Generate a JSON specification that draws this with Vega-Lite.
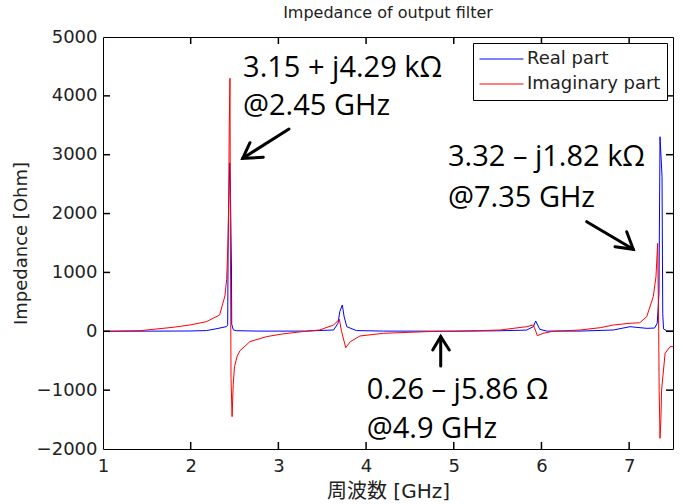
{
  "$schema": "https://vega.github.io/schema/vega-lite/v6.json",
  "width": 570,
  "height": 412,
  "autosize": {"type": "none"},
  "padding": {"left": 103, "top": 37, "right": 10, "bottom": 55},
  "background": "white",
  "title": {"text": "Impedance of output filter", "font": "DejaVu Sans", "fontSize": 16, "fontWeight": "normal", "color": "#222", "offset": 7, "anchor": "middle", "frame": "group"},
  "datasets": {
    "curves": [
      {"series": "Real part", "x": 1.0, "y": 0},
      {"series": "Real part", "x": 1.5, "y": 2},
      {"series": "Real part", "x": 1.99, "y": 5},
      {"series": "Real part", "x": 2.18, "y": 12},
      {"series": "Real part", "x": 2.30, "y": 45},
      {"series": "Real part", "x": 2.41, "y": 80},
      {"series": "Real part", "x": 2.422, "y": 110},
      {"series": "Real part", "x": 2.428, "y": 1780},
      {"series": "Real part", "x": 2.445, "y": 2860},
      {"series": "Real part", "x": 2.452, "y": 2500},
      {"series": "Real part", "x": 2.465, "y": 1075},
      {"series": "Real part", "x": 2.468, "y": 120},
      {"series": "Real part", "x": 2.486, "y": 25},
      {"series": "Real part", "x": 2.52, "y": 10},
      {"series": "Real part", "x": 2.79, "y": 3},
      {"series": "Real part", "x": 3.3, "y": 3},
      {"series": "Real part", "x": 3.63, "y": 22},
      {"series": "Real part", "x": 3.68, "y": 136},
      {"series": "Real part", "x": 3.70, "y": 333},
      {"series": "Real part", "x": 3.729, "y": 447},
      {"series": "Real part", "x": 3.75, "y": 248},
      {"series": "Real part", "x": 3.78, "y": 78},
      {"series": "Real part", "x": 3.89, "y": 12},
      {"series": "Real part", "x": 4.2, "y": 3},
      {"series": "Real part", "x": 5.0, "y": 2},
      {"series": "Real part", "x": 5.5, "y": 8},
      {"series": "Real part", "x": 5.83, "y": 20},
      {"series": "Real part", "x": 5.907, "y": 78},
      {"series": "Real part", "x": 5.934, "y": 175},
      {"series": "Real part", "x": 5.98, "y": 34},
      {"series": "Real part", "x": 6.06, "y": 3},
      {"series": "Real part", "x": 6.44, "y": 3},
      {"series": "Real part", "x": 6.82, "y": 22},
      {"series": "Real part", "x": 7.01, "y": 78},
      {"series": "Real part", "x": 7.20, "y": 50},
      {"series": "Real part", "x": 7.29, "y": 55},
      {"series": "Real part", "x": 7.32, "y": 136},
      {"series": "Real part", "x": 7.34, "y": 645},
      {"series": "Real part", "x": 7.352, "y": 3306},
      {"series": "Real part", "x": 7.375, "y": 2627},
      {"series": "Real part", "x": 7.383, "y": 300},
      {"series": "Real part", "x": 7.392, "y": 40},
      {"series": "Real part", "x": 7.43, "y": 5},
      {"series": "Real part", "x": 7.5, "y": 3},
      {"series": "Imaginary part", "x": 1.0, "y": 0},
      {"series": "Imaginary part", "x": 1.42, "y": 10},
      {"series": "Imaginary part", "x": 1.80, "y": 68},
      {"series": "Imaginary part", "x": 1.99, "y": 107},
      {"series": "Imaginary part", "x": 2.18, "y": 164},
      {"series": "Imaginary part", "x": 2.33, "y": 277},
      {"series": "Imaginary part", "x": 2.39, "y": 600},
      {"series": "Imaginary part", "x": 2.41, "y": 880},
      {"series": "Imaginary part", "x": 2.43, "y": 1700},
      {"series": "Imaginary part", "x": 2.44, "y": 3500},
      {"series": "Imaginary part", "x": 2.448, "y": 4298},
      {"series": "Imaginary part", "x": 2.453, "y": 1500},
      {"series": "Imaginary part", "x": 2.46, "y": -800},
      {"series": "Imaginary part", "x": 2.472, "y": -1450},
      {"series": "Imaginary part", "x": 2.485, "y": -900},
      {"series": "Imaginary part", "x": 2.5, "y": -600},
      {"series": "Imaginary part", "x": 2.53, "y": -420},
      {"series": "Imaginary part", "x": 2.562, "y": -330},
      {"series": "Imaginary part", "x": 2.676, "y": -175},
      {"series": "Imaginary part", "x": 2.867, "y": -90},
      {"series": "Imaginary part", "x": 3.05, "y": -45},
      {"series": "Imaginary part", "x": 3.25, "y": -10},
      {"series": "Imaginary part", "x": 3.47, "y": 22},
      {"series": "Imaginary part", "x": 3.63, "y": 107},
      {"series": "Imaginary part", "x": 3.695, "y": 204},
      {"series": "Imaginary part", "x": 3.72, "y": 0},
      {"series": "Imaginary part", "x": 3.768, "y": -278},
      {"series": "Imaginary part", "x": 3.82, "y": -177},
      {"series": "Imaginary part", "x": 3.93, "y": -80},
      {"series": "Imaginary part", "x": 4.20, "y": -34},
      {"series": "Imaginary part", "x": 4.50, "y": -17},
      {"series": "Imaginary part", "x": 4.76, "y": -3},
      {"series": "Imaginary part", "x": 5.1, "y": 3},
      {"series": "Imaginary part", "x": 5.53, "y": 22},
      {"series": "Imaginary part", "x": 5.83, "y": 78},
      {"series": "Imaginary part", "x": 5.907, "y": 107},
      {"series": "Imaginary part", "x": 5.935, "y": 0},
      {"series": "Imaginary part", "x": 5.953, "y": -75},
      {"series": "Imaginary part", "x": 6.02, "y": -34},
      {"series": "Imaginary part", "x": 6.13, "y": 0},
      {"series": "Imaginary part", "x": 6.44, "y": 22},
      {"series": "Imaginary part", "x": 6.67, "y": 61},
      {"series": "Imaginary part", "x": 6.82, "y": 107},
      {"series": "Imaginary part", "x": 7.01, "y": 136},
      {"series": "Imaginary part", "x": 7.12, "y": 145},
      {"series": "Imaginary part", "x": 7.20, "y": 248},
      {"series": "Imaginary part", "x": 7.275, "y": 588},
      {"series": "Imaginary part", "x": 7.306, "y": 928},
      {"series": "Imaginary part", "x": 7.325, "y": 1495},
      {"series": "Imaginary part", "x": 7.337, "y": 0},
      {"series": "Imaginary part", "x": 7.342, "y": -1005},
      {"series": "Imaginary part", "x": 7.352, "y": -1818},
      {"series": "Imaginary part", "x": 7.362, "y": -1500},
      {"series": "Imaginary part", "x": 7.370, "y": -997},
      {"series": "Imaginary part", "x": 7.41, "y": -374},
      {"series": "Imaginary part", "x": 7.466, "y": -261},
      {"series": "Imaginary part", "x": 7.5, "y": -261}
    ],
    "arrows": [
      {"seg": "a1s", "k": 0, "x": 3.121, "y": 3437},
      {"seg": "a1s", "k": 1, "x": 2.593, "y": 2939},
      {"seg": "a1h", "k": 0, "x": 2.828, "y": 2956},
      {"seg": "a1h", "k": 1, "x": 2.593, "y": 2939},
      {"seg": "a1h", "k": 2, "x": 2.676, "y": 3204},
      {"seg": "a2s", "k": 0, "x": 6.516, "y": 1862},
      {"seg": "a2s", "k": 1, "x": 7.047, "y": 1393},
      {"seg": "a2h", "k": 0, "x": 6.839, "y": 1437},
      {"seg": "a2h", "k": 1, "x": 7.047, "y": 1393},
      {"seg": "a2h", "k": 2, "x": 6.972, "y": 1692},
      {"seg": "a3s", "k": 0, "x": 4.851, "y": -590},
      {"seg": "a3s", "k": 1, "x": 4.851, "y": -92},
      {"seg": "a3h", "k": 0, "x": 4.760, "y": -318},
      {"seg": "a3h", "k": 1, "x": 4.851, "y": -92},
      {"seg": "a3h", "k": 2, "x": 4.949, "y": -318}
    ],
    "notes": [
      {"x": 2.597, "y": 4326, "t": "3.15 + j4.29 kΩ"},
      {"x": 2.597, "y": 3675, "t": "@2.45 GHz"},
      {"x": 4.934, "y": 2808, "t": "3.32 – j1.82 kΩ"},
      {"x": 4.934, "y": 2112, "t": "@7.35 GHz"},
      {"x": 4.007, "y": -1155, "t": "0.26 – j5.86 Ω"},
      {"x": 4.007, "y": -1818, "t": "@4.9 GHz"}
    ],
    "xticks": [{"v": 2}, {"v": 3}, {"v": 4}, {"v": 5}, {"v": 6}, {"v": 7}],
    "yticks": [{"v": -1000}, {"v": 0}, {"v": 1000}, {"v": 2000}, {"v": 3000}, {"v": 4000}]
  },
  "layer": [
    {
      "data": {"name": "curves"},
      "transform": [{"filter": "datum.series == 'Real part'"}],
      "mark": {"type": "line", "strokeWidth": 1, "clip": true},
      "encoding": {
        "x": {"field": "x", "type": "quantitative", "title": "周波数 [GHz]",
          "scale": {"domain": [1, 7.5], "nice": false, "zero": false},
          "axis": {"orient": "bottom", "values": [1, 2, 3, 4, 5, 6, 7], "format": "d", "labelPadding": 8, "titlePadding": 6, "titleFontSize": 20, "labelFlush": false}},
        "y": {"field": "y", "type": "quantitative", "title": "Impedance [Ohm]",
          "scale": {"domain": [-2000, 5000], "nice": false, "zero": false},
          "axis": {"orient": "left", "values": [-2000, -1000, 0, 1000, 2000, 3000, 4000, 5000], "format": "d", "labelPadding": 6, "titlePadding": 6, "labelFlush": false}},
        "color": {"field": "series", "type": "nominal",
          "scale": {"domain": ["Real part", "Imaginary part"], "range": ["#0000ff", "#ff0000"]},
          "legend": {"title": null, "orient": "top-right", "offset": 6, "symbolType": "stroke", "symbolSize": 1936, "symbolStrokeWidth": 1, "clipHeight": 20, "rowPadding": 5, "labelFontSize": 18, "labelFont": "DejaVu Sans", "labelColor": "#222", "labelOffset": 3, "strokeColor": "black", "fillColor": "white", "padding": 6}}
      }
    },
    {
      "data": {"name": "curves"},
      "transform": [{"filter": "datum.series == 'Imaginary part'"}],
      "mark": {"type": "line", "strokeWidth": 1, "clip": true},
      "encoding": {
        "x": {"field": "x", "type": "quantitative", "title": "周波数 [GHz]"},
        "y": {"field": "y", "type": "quantitative", "title": "Impedance [Ohm]"},
        "color": {"field": "series", "type": "nominal"}
      }
    },
    {
      "data": {"name": "arrows"},
      "mark": {"type": "line", "color": "black", "strokeWidth": 3, "strokeCap": "round", "strokeJoin": "miter"},
      "encoding": {
        "x": {"field": "x", "type": "quantitative", "title": "周波数 [GHz]"},
        "y": {"field": "y", "type": "quantitative", "title": "Impedance [Ohm]"},
        "detail": {"field": "seg"},
        "order": {"field": "k", "type": "quantitative"}
      }
    },
    {
      "data": {"name": "notes"},
      "mark": {"type": "text", "align": "left", "baseline": "alphabetic", "font": "Open Sans", "fontSize": 29, "color": "black"},
      "encoding": {
        "x": {"field": "x", "type": "quantitative", "title": "周波数 [GHz]"},
        "y": {"field": "y", "type": "quantitative", "title": "Impedance [Ohm]"},
        "text": {"field": "t"}
      }
    },
    {
      "data": {"name": "xticks"},
      "mark": {"type": "rule", "color": "#000000", "strokeWidth": 1.5, "opacity": 1},
      "encoding": {
        "x": {"field": "v", "type": "quantitative", "title": "周波数 [GHz]"},
        "y": {"datum": 5000, "type": "quantitative"},
        "y2": {"datum": 4881}
      }
    },
    {
      "data": {"name": "xticks"},
      "mark": {"type": "rule", "color": "#000000", "strokeWidth": 1.5, "opacity": 1},
      "encoding": {
        "x": {"field": "v", "type": "quantitative", "title": "周波数 [GHz]"},
        "y": {"datum": -2000, "type": "quantitative"},
        "y2": {"datum": -1881}
      }
    },
    {
      "data": {"name": "yticks"},
      "mark": {"type": "rule", "color": "#000000", "strokeWidth": 1.5, "opacity": 1},
      "encoding": {
        "y": {"field": "v", "type": "quantitative", "title": "Impedance [Ohm]"},
        "x": {"datum": 1, "type": "quantitative"},
        "x2": {"datum": 1.08}
      }
    },
    {
      "data": {"name": "yticks"},
      "mark": {"type": "rule", "color": "#000000", "strokeWidth": 1.5, "opacity": 1},
      "encoding": {
        "y": {"field": "v", "type": "quantitative", "title": "Impedance [Ohm]"},
        "x": {"datum": 7.5, "type": "quantitative"},
        "x2": {"datum": 7.42}
      }
    }
  ],
  "config": {
    "view": {"stroke": "black", "strokeWidth": 1},
    "axis": {"domain": false, "ticks": false, "grid": false,
      "labelFont": "DejaVu Sans", "labelFontSize": 18, "labelColor": "#222",
      "titleFont": "DejaVu Sans, Noto Sans CJK JP", "titleFontSize": 18, "titleFontWeight": "normal", "titleColor": "#222"}
  }
}
